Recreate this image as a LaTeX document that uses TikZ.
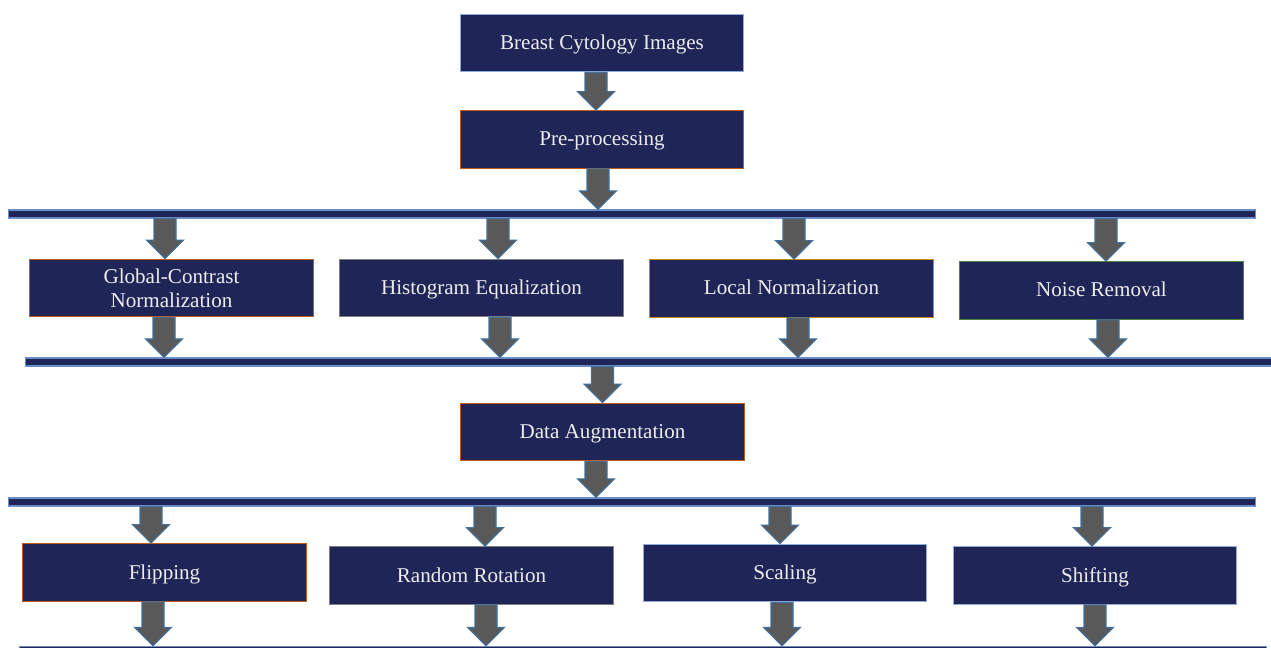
\documentclass[tikz,border=0pt]{standalone}
\usepackage{fontspec}
\setmainfont{Liberation Serif}
\usetikzlibrary{calc}
\definecolor{navy}{HTML}{1F2556}
\definecolor{txt}{HTML}{EDEDED}
\definecolor{orng}{HTML}{C55A11}
\definecolor{gry}{HTML}{7F7F7F}
\definecolor{gold}{HTML}{BF9000}
\definecolor{grn}{HTML}{548235}
\definecolor{lblue}{HTML}{8FAADC}
\definecolor{arrfill}{HTML}{595959}
\definecolor{arredge}{HTML}{41719C}
\definecolor{baredge}{HTML}{6A8CC7}
\tikzset{
  procbox/.style={rectangle, fill=navy, draw=#1, line width=0.8pt, minimum width=5.67cm, minimum height=1.15cm, inner sep=2pt, text=txt, font=\fontsize{12}{13.5}\selectfont, align=center},
  oneline/.style={procbox=#1, text height=0.95em, text depth=0.21em},
  hbar/.style={rectangle, fill=navy, draw=baredge, line width=0.6pt, minimum height=0.16cm, inner sep=0pt, minimum width=#1},
  blockarr/.style={fill=arrfill, draw=arredge, line width=0.6pt, line join=miter}
}
\newcommand\blockarrow[2]{\draw[blockarr] let \p1=#1, \p2=#2 in
  (\x2-0.22cm,\y1) -- (\x2+0.22cm,\y1) -- (\x2+0.22cm,\y2+0.37cm) -- (\x2+0.37cm,\y2+0.37cm)
  -- (\x2,\y2) -- (\x2-0.37cm,\y2+0.37cm) -- (\x2-0.22cm,\y2+0.37cm) -- cycle;}
\begin{document}
\begin{tikzpicture}[x=0.02cm,y=-0.02cm]
\useasboundingbox (0,0) rectangle (1271,648);
\fill[white] (0,0) rectangle (1271,648);
% bars
\node[hbar=24.96cm] (bar1) at (632,214) {};
\node[hbar=25cm] (bar2) at (650,362) {};
\node[hbar=24.96cm] (bar3) at (632,502) {};
\node[hbar=24.96cm] (bar4) at (643,650.5) {};
% boxes
\node[oneline=lblue] (img) at (602,43) {Breast Cytology Images};
\node[oneline=orng] (pre) at (602,139.5) {Pre-processing};
\node[procbox=orng] (gcn) at (171.5,288) {Global-Contrast\\Normalization};
\node[oneline=gry] (hist) at (481.5,288) {Histogram Equalization};
\node[oneline=gold] (loc) at (791.5,288.5) {Local Normalization};
\node[oneline=grn] (noise) at (1101.5,290.5) {Noise Removal};
\node[oneline=orng] (aug) at (602.5,432) {Data Augmentation};
\node[oneline=orng] (flip) at (164.5,572.5) {Flipping};
\node[oneline=gry] (rot) at (471.5,575.5) {Random Rotation};
\node[oneline=lblue] (scal) at (785,573) {Scaling};
\node[oneline=lblue] (shift) at (1095,575.5) {Shifting};
% arrows
\blockarrow{(img.south)}{([xshift=-0.12cm]pre.north)}
\blockarrow{(pre.south)}{([xshift=-0.08cm]pre.south |- bar1.north)}
\blockarrow{(bar1.south)}{([xshift=-0.13cm]gcn.north)}
\blockarrow{(bar1.south)}{([xshift=0.33cm]hist.north)}
\blockarrow{(bar1.south)}{([xshift=0.05cm]loc.north)}
\blockarrow{(bar1.south)}{([xshift=0.09cm]noise.north)}
\blockarrow{(gcn.south)}{([xshift=-0.15cm]gcn.south |- bar2.north)}
\blockarrow{(hist.south)}{([xshift=0.37cm]hist.south |- bar2.north)}
\blockarrow{(loc.south)}{([xshift=0.13cm]loc.south |- bar2.north)}
\blockarrow{(noise.south)}{([xshift=0.13cm]noise.south |- bar2.north)}
\blockarrow{(bar2.south)}{(aug.north)}
\blockarrow{(aug.south)}{([xshift=-0.13cm]aug.south |- bar3.north)}
\blockarrow{(bar3.south)}{([xshift=-0.27cm]flip.north)}
\blockarrow{(bar3.south)}{([xshift=0.27cm]rot.north)}
\blockarrow{(bar3.south)}{([xshift=-0.1cm]scal.north)}
\blockarrow{(bar3.south)}{([xshift=-0.06cm]shift.north)}
\blockarrow{(flip.south)}{([xshift=-0.23cm]flip.south |- bar4.north)}
\blockarrow{(rot.south)}{([xshift=0.29cm]rot.south |- bar4.north)}
\blockarrow{(scal.south)}{([xshift=-0.06cm]scal.south |- bar4.north)}
\blockarrow{(shift.south)}{(shift.south |- bar4.north)}
\end{tikzpicture}
\end{document}
